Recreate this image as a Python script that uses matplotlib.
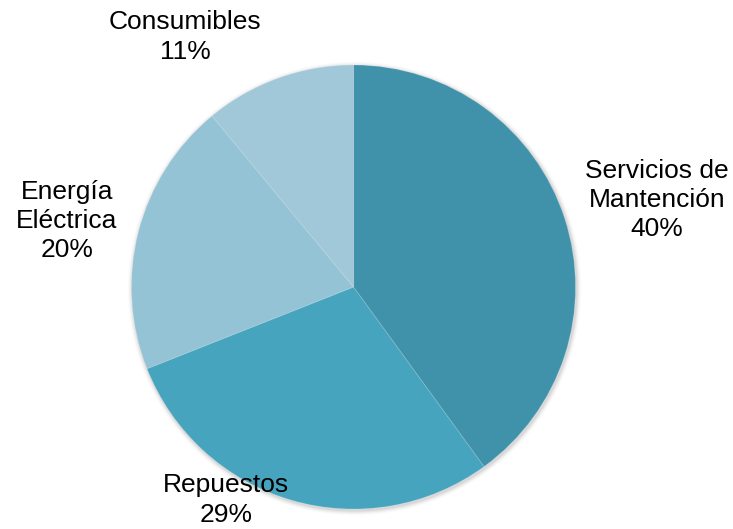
import matplotlib.pyplot as plt
from matplotlib.patches import Circle

# Data
categories = ["Servicios de\nMantención", "Repuestos", "Energía\nEléctrica", "Consumibles"]
shares = [40, 29, 20, 11]
colors = ["#4092AB", "#46A4BE", "#93C3D5", "#A0C8D9"]

plt.rcParams['font.family'] = ['Liberation Sans', 'DejaVu Sans']

fig = plt.figure(figsize=(7.33, 5.29), dpi=100)
ax = fig.add_axes([0, 0, 1, 1])

cx, cy, r = 353.5, 529 - 287, 222

# soft shadow around the pie
for i, a in enumerate([0.05, 0.04, 0.03, 0.02, 0.01]):
    ax.add_patch(Circle((cx + 1, cy - 1.5), r + 1 + i, color='black', alpha=a, lw=0, zorder=0))

wedges, _ = ax.pie(shares, colors=colors, startangle=90, counterclock=False,
                   center=(cx, cy), radius=r, frame=True,
                   wedgeprops=dict(edgecolor=(1, 1, 1, 0.12), linewidth=0.8))
ax.set_xlim(0, 733)
ax.set_ylim(0, 529)
ax.set_aspect('equal')
ax.axis('off')

# label positions (pixel coords, from top)
label_pos = [(657, 200), (226, 500), (67, 221), (185, 37)]
for name, val, (x, y) in zip(categories, shares, label_pos):
    ax.text(x, 529 - y, f"{name}\n{val}%", ha='center', va='center',
            fontsize=19, linespacing=1.28, color='black')

plt.savefig("out.png", dpi=100)
